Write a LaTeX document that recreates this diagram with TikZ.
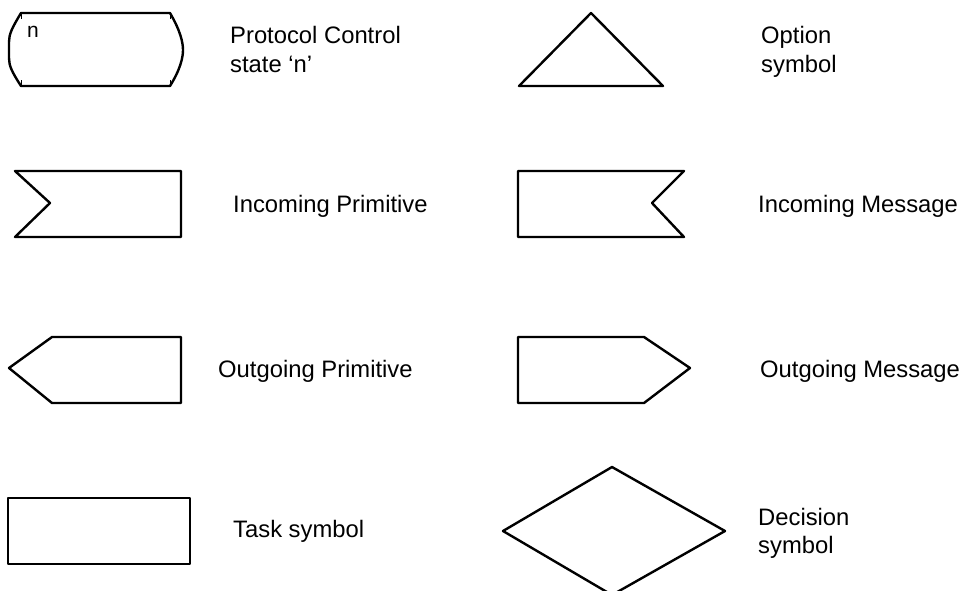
\documentclass[tikz,border=0pt]{standalone}
\usepackage{fontspec}
\setmainfont{Liberation Sans}
\usepackage{tikz}

\begin{document}
\begin{tikzpicture}[x=1pt,y=-1pt,line width=2.4pt,line join=round,
  lbl/.style={anchor=base west,inner sep=0pt,font=\fontsize{23.8}{29}\selectfont}]
\useasboundingbox (0,0) rectangle (966,590);
% protocol control state
\draw (21,13) -- (170,13) .. controls (180,30) and (183,42) .. (183,50)
  .. controls (183,58) and (180,70) .. (170,86) -- (21,86)
  .. controls (12,72) and (9,66) .. (9,58) -- (9,42)
  .. controls (9,34) and (12,28) .. (21,13) -- cycle;
\draw [line width=0.8pt] (21,13) -- (21,19) (21,80) -- (21,86) (170,13) -- (170,19) (170,80) -- (170,86);
\path (26,37) node (staten) [lbl,font=\fontsize{21}{24}\selectfont] {n};
\path (229,43) node (statel1) [lbl] {Protocol Control};
\path (229,72) node (statel2) [lbl] {state ‘n’};
% option symbol
\draw (591,13) -- (663,86) -- (519,86) -- cycle;
\path (760,43) node (optl1) [lbl] {Option};
\path (760,72) node (optl2) [lbl] {symbol};
% incoming primitive
\draw (15,171) -- (181,171) -- (181,237) -- (15,237) -- (50,203) -- cycle;
\path (232,212) node (inprim) [lbl] {Incoming Primitive};
% incoming message
\draw (518,171) -- (684,171) -- (652,203) -- (684,237) -- (518,237) -- cycle;
\path (757,212) node (inmsg) [lbl] {Incoming Message};
% outgoing primitive
\draw (52,337) -- (181,337) -- (181,403) -- (52,403) -- (9,368) -- cycle;
\path (217,377) node (outprim) [lbl] {Outgoing Primitive};
% outgoing message
\draw (518,337) -- (644,337) -- (690,368) -- (644,403) -- (518,403) -- cycle;
\path (759,377) node (outmsg) [lbl] {Outgoing Message};
% task symbol
\draw (8,498) rectangle (190,564);
\path (232,537) node (task) [lbl] {Task symbol};
% decision symbol
\draw (612,467) -- (725,531) -- (612,595) -- (503,531) -- cycle;
\path (757,525) node (decl1) [lbl] {Decision};
\path (757,553) node (decl2) [lbl] {symbol};
\end{tikzpicture}
\end{document}
